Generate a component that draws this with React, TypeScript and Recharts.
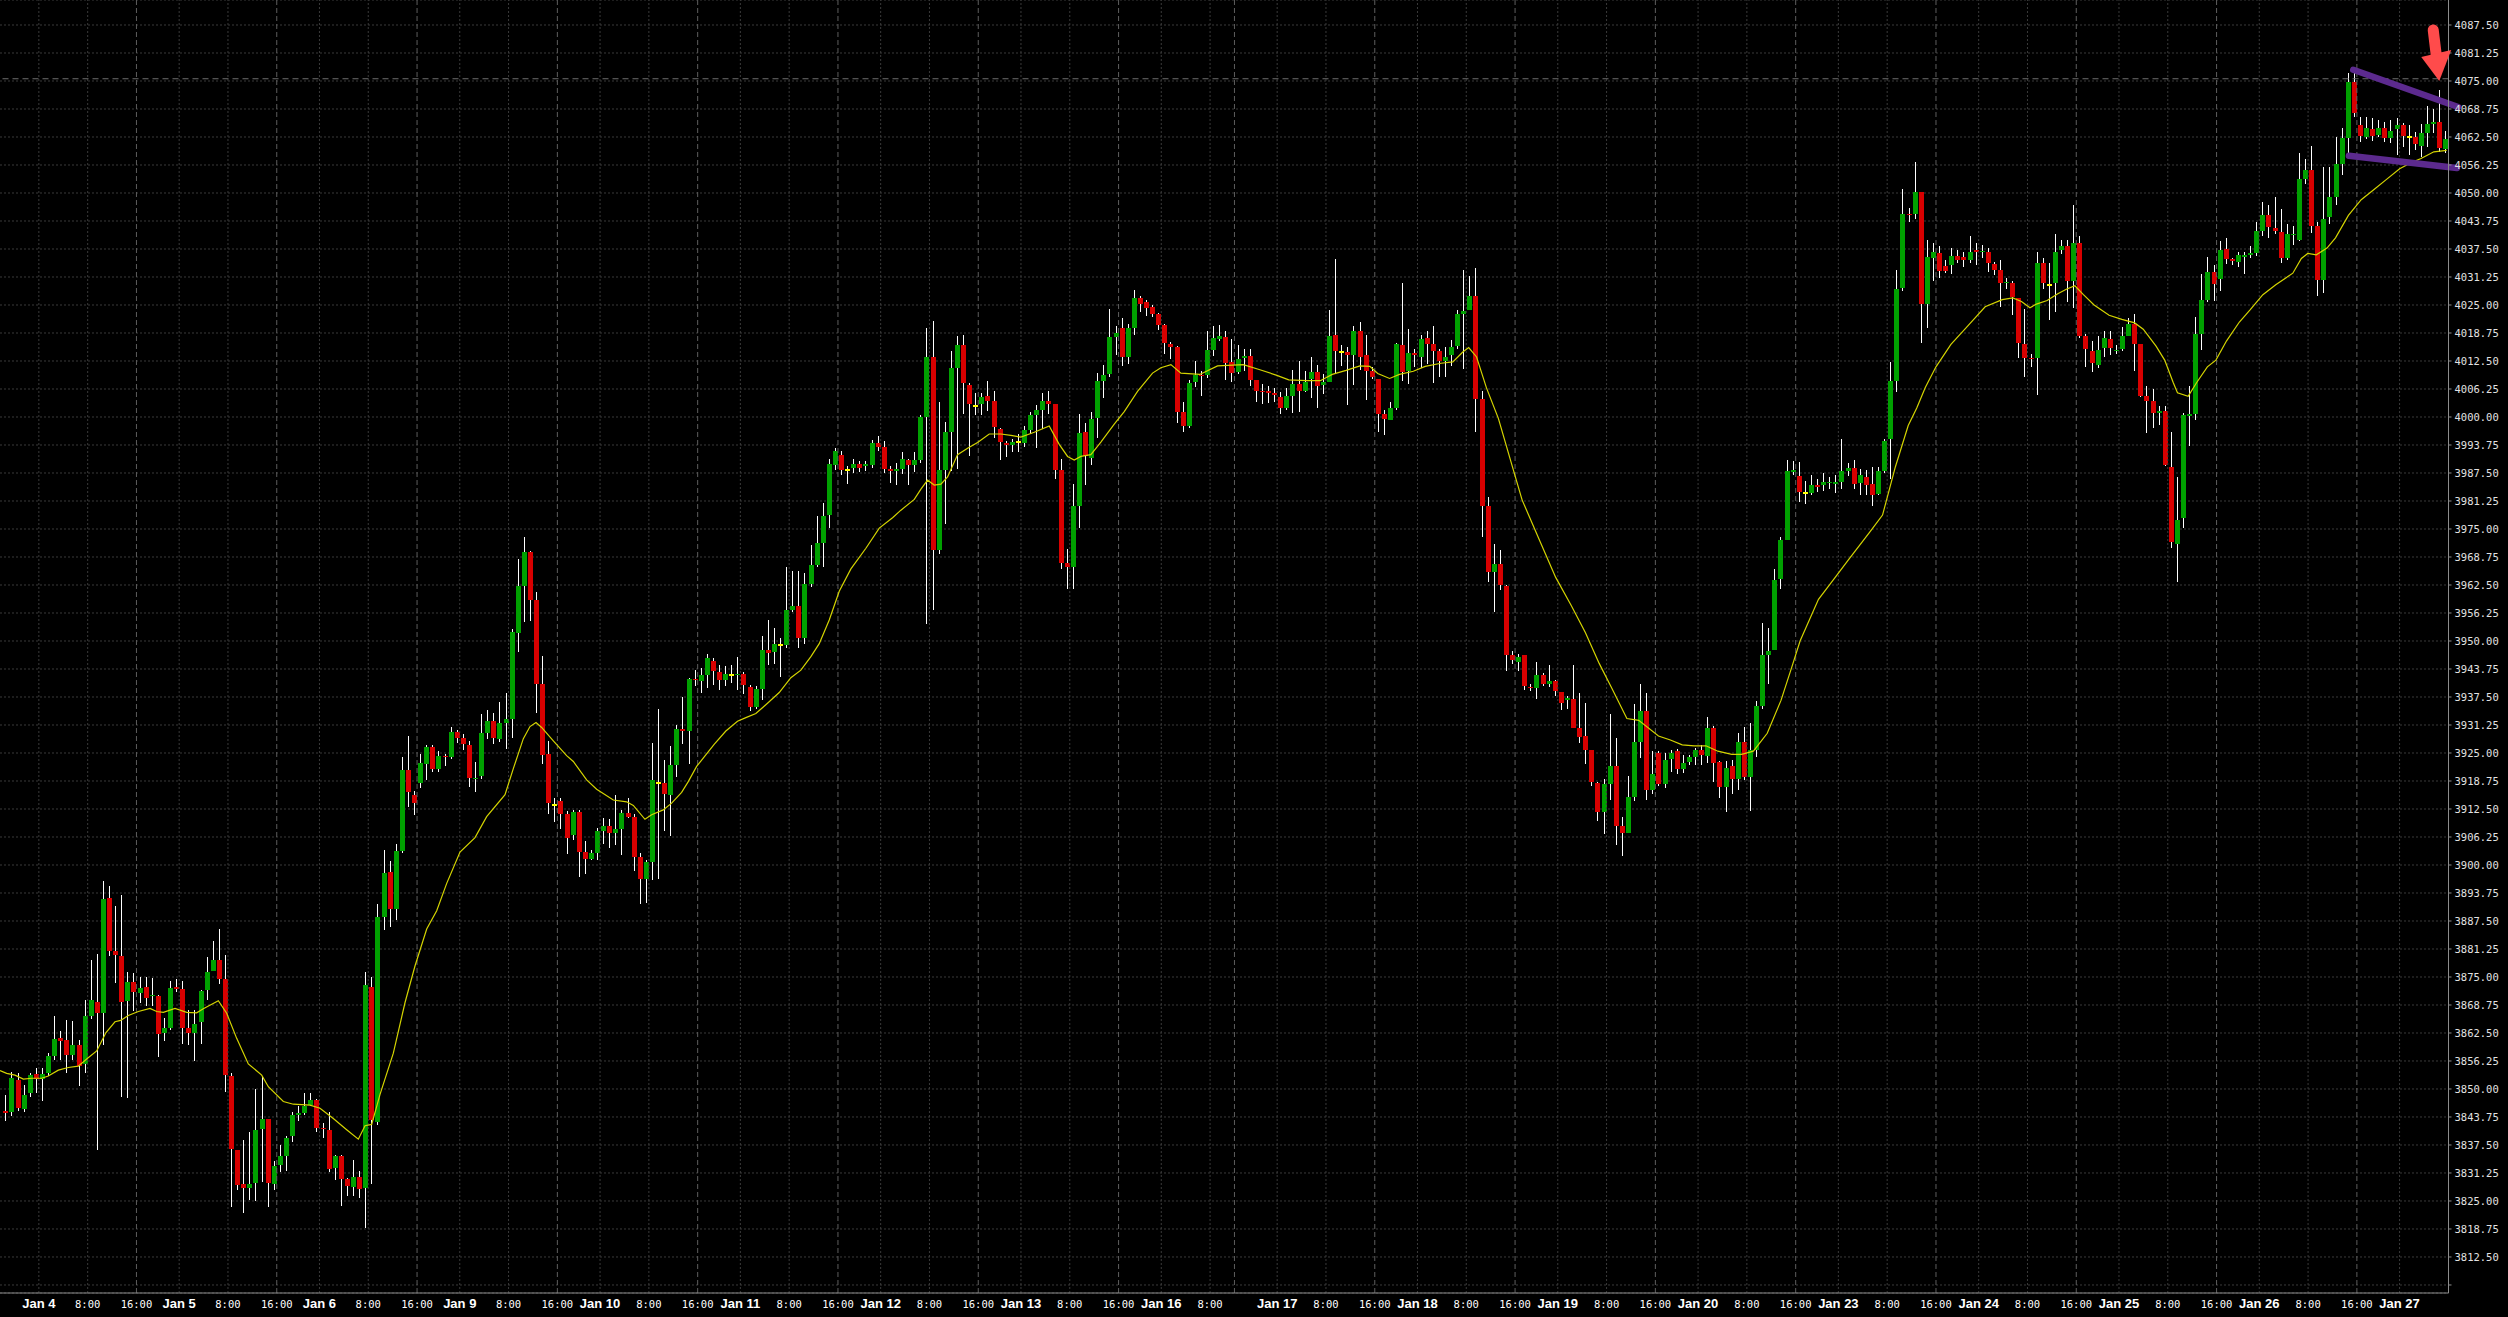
import React from "react";
import {
  ComposedChart,
  Bar,
  Line,
  XAxis,
  YAxis,
  CartesianGrid,
  ReferenceLine,
  ReferenceDot,
} from "recharts";

// hourly candles, index 1 = first visible bar (Jan 3 evening)
const firstCandle = 1;

const opens = [
  3845.1, 3844.9, 3852.0, 3845.6, 3849.0, 3853.3, 3852.2, 3853.5, 3857.4, 3861.3,
  3860.9, 3857.6, 3859.8, 3855.6, 3866.4, 3869.5, 3867.0, 3892.7, 3880.9, 3879.7,
  3869.6, 3873.9, 3871.4, 3872.8, 3870.7, 3870.7, 3862.4, 3863.7, 3872.8, 3872.3,
  3863.6, 3862.4, 3865.0, 3872.0, 3876.4, 3878.8, 3874.5, 3852.9, 3836.4, 3828.8,
  3828.0, 3829.1, 3841.1, 3843.3, 3828.9, 3833.1, 3835.1, 3839.4, 3844.2, 3844.7,
  3846.4, 3847.5, 3841.4, 3840.8, 3832.4, 3835.0, 3829.9, 3828.2, 3830.4, 3828.0,
  3872.7, 3842.7, 3888.3, 3898.5, 3890.1, 3903.1, 3921.3, 3915.7, 3918.3, 3922.5,
  3926.4, 3921.5, 3924.3, 3924.0, 3929.7, 3928.3, 3926.8, 3919.2, 3919.8, 3929.5,
  3932.1, 3928.2, 3931.8, 3932.6, 3951.7, 3962.2, 3969.9, 3959.2, 3940.3, 3924.8,
  3913.3, 3914.3, 3911.3, 3906.6, 3911.9, 3902.9, 3901.4, 3902.7, 3907.5, 3908.7,
  3907.1, 3908.1, 3911.7, 3910.7, 3901.8, 3896.9, 3900.7, 3918.4, 3918.2, 3915.7,
  3922.3, 3930.4, 3930.0, 3941.6, 3941.0, 3942.5, 3945.6, 3943.1, 3941.3, 3942.5,
  3942.3, 3942.6, 3939.8, 3935.3, 3939.3, 3947.9, 3947.6, 3949.0, 3949.0, 3957.0,
  3957.9, 3950.6, 3962.8, 3967.0, 3971.8, 3978.2, 3989.3, 3991.6, 3988.2, 3988.6,
  3989.6, 3989.0, 3989.2, 3994.1, 3993.3, 3988.3, 3987.9, 3988.3, 3990.4, 3989.2,
  3990.4, 4000.0, 4013.5, 3970.2, 3988.2, 3996.6, 4011.0, 4016.1, 4007.2, 4002.5,
  4003.0, 4004.6, 4003.6, 3997.4, 3994.2, 3993.7, 3994.4, 3994.3, 3997.1, 4000.5,
  4001.5, 4003.6, 4002.8, 3988.2, 3967.5, 3966.6, 3980.2, 3996.6, 3990.8, 3999.8,
  4008.0, 4009.6, 4017.8, 4019.9, 4013.5, 4019.9, 4026.5, 4025.6, 4024.5, 4022.9,
  4020.5, 4016.4, 4015.6, 4001.2, 3998.0, 4007.7, 4009.3, 4009.3, 4015.0, 4017.5,
  4017.9, 4012.2, 4010.0, 4013.1, 4013.6, 4008.2, 4005.9, 4005.7, 4005.3, 4004.5,
  4002.0, 4004.7, 4007.3, 4005.8, 4008.4, 4010.1, 4007.2, 4007.8, 4018.4, 4014.5,
  4014.6, 4013.8, 4019.3, 4013.8, 4010.2, 4008.4, 4000.6, 3999.4, 4002.0, 4016.1,
  4010.2, 4014.3, 4013.4, 4017.7, 4016.4, 4014.7, 4012.4, 4013.8, 4015.8, 4022.9,
  4023.8, 4027.0, 4004.0, 3980.1, 3965.3, 3967.2, 3962.3, 3946.9, 3945.3, 3946.9,
  3939.8, 3939.6, 3942.5, 3940.5, 3941.1, 3938.6, 3936.8, 3937.0, 3930.5, 3928.8,
  3925.7, 3918.4, 3911.8, 3918.0, 3922.0, 3908.6, 3907.2, 3915.2, 3927.5, 3934.3,
  3916.8, 3925.0, 3918.0, 3923.6, 3925.4, 3921.4, 3922.9, 3924.1, 3925.7, 3924.3,
  3930.6, 3922.9, 3917.3, 3922.0, 3919.1, 3927.5, 3919.7, 3925.7, 3935.5, 3946.9,
  3947.9, 3963.9, 3972.6, 3987.7, 3986.9, 3983.1, 3983.1, 3984.8, 3984.9, 3985.2,
  3985.0, 3985.4, 3988.0, 3988.7, 3985.2, 3986.6, 3985.0, 3982.7, 3988.0, 3995.0,
  4008.1, 4028.7, 4045.4, 4045.2, 4050.2, 4025.2, 4035.4, 4036.6, 4033.7, 4033.9,
  4036.0, 4035.8, 4035.0, 4037.3, 4036.8, 4036.9, 4034.1, 4032.7, 4030.0, 4029.8,
  4026.6, 4016.2, 4013.2, 4013.1, 4034.4, 4029.5, 4029.8, 4037.2, 4038.1, 4030.4,
  4038.9, 4018.1, 4014.7, 4011.6, 4015.4, 4017.5, 4014.8, 4015.2, 4018.1, 4020.8,
  4016.2, 4004.7, 4003.5, 4000.8, 4001.4, 3988.9, 3971.6, 3977.4, 4000.3, 4000.6,
  4018.5, 4026.2, 4032.3, 4030.8, 4037.5, 4035.2, 4034.5, 4035.8, 4036.2, 4036.7,
  4041.5, 4045.0, 4042.2, 4041.4, 4035.4, 4040.6, 4039.6, 4053.1, 4055.2, 4042.7,
  4030.6, 4044.6, 4049.2, 4056.5, 4062.2, 4074.8, 4065.2, 4062.6, 4064.3, 4063.0,
  4064.6, 4062.2, 4064.2, 4065.2, 4062.6, 4062.6, 4060.5, 4063.5, 4065.4, 4065.9,
  4059.8,
];

const highs = [
  3848.6, 3853.9, 3853.5, 3850.9, 3853.5, 3854.6, 3854.6, 3858.1, 3866.4, 3863.0,
  3865.4, 3865.2, 3860.9, 3869.9, 3878.8, 3880.1, 3896.4, 3895.2, 3890.9, 3893.3,
  3876.2, 3876.0, 3874.9, 3874.9, 3874.7, 3871.0, 3865.8, 3874.2, 3874.5, 3874.2,
  3867.6, 3867.6, 3872.1, 3879.5, 3883.1, 3885.6, 3879.8, 3853.5, 3836.4, 3838.6,
  3840.3, 3850.1, 3852.8, 3843.3, 3833.9, 3837.6, 3839.5, 3844.9, 3846.2, 3849.0,
  3849.0, 3847.7, 3842.3, 3844.9, 3835.3, 3835.3, 3830.1, 3834.1, 3831.6, 3876.1,
  3875.1, 3891.3, 3903.3, 3901.0, 3904.6, 3924.0, 3928.7, 3916.5, 3924.8, 3926.8,
  3926.8, 3925.4, 3924.8, 3930.7, 3930.2, 3929.2, 3927.7, 3923.1, 3933.6, 3934.6,
  3934.0, 3936.4, 3938.4, 3952.6, 3968.4, 3973.3, 3970.0, 3961.0, 3946.6, 3927.7,
  3914.9, 3914.9, 3912.1, 3912.3, 3912.3, 3905.4, 3903.3, 3908.2, 3910.5, 3910.2,
  3915.6, 3912.3, 3914.9, 3911.3, 3902.6, 3901.2, 3927.2, 3934.8, 3923.4, 3926.6,
  3931.2, 3937.4, 3941.7, 3943.5, 3943.9, 3947.0, 3946.3, 3944.7, 3944.5, 3944.7,
  3946.5, 3943.1, 3940.1, 3939.9, 3951.1, 3954.7, 3952.9, 3950.6, 3966.6, 3965.7,
  3965.7, 3965.2, 3971.4, 3977.9, 3980.7, 3990.7, 3993.0, 3992.5, 3989.1, 3990.7,
  3990.1, 3990.1, 3994.8, 3995.7, 3994.6, 3989.1, 3989.8, 3992.1, 3990.7, 3992.1,
  4000.5, 4019.9, 4021.5, 4003.4, 3998.9, 4014.7, 4018.0, 4018.4, 4007.6, 4005.3,
  4005.3, 4008.0, 4005.9, 3997.6, 3994.6, 3995.0, 3996.2, 3998.0, 4001.2, 4002.7,
  4005.3, 4005.7, 4003.0, 3990.7, 3970.5, 3985.0, 4000.7, 3998.6, 4001.2, 4009.8,
  4011.7, 4024.1, 4020.3, 4022.1, 4020.8, 4028.3, 4027.1, 4026.1, 4024.9, 4023.2,
  4020.8, 4016.7, 4015.8, 4003.4, 4008.3, 4012.4, 4010.2, 4019.3, 4020.2, 4020.5,
  4019.3, 4017.5, 4016.1, 4015.2, 4015.2, 4008.3, 4007.4, 4007.0, 4006.5, 4005.6,
  4006.5, 4010.6, 4012.4, 4010.2, 4013.5, 4011.5, 4009.7, 4023.8, 4035.2, 4016.1,
  4015.6, 4020.2, 4021.1, 4018.4, 4011.1, 4008.4, 4001.5, 4003.3, 4016.5, 4029.8,
  4019.7, 4015.2, 4018.4, 4019.3, 4020.2, 4015.2, 4015.6, 4017.2, 4023.8, 4032.7,
  4031.4, 4033.2, 4005.8, 3982.2, 3971.6, 3970.3, 3962.5, 3947.8, 3947.0, 3946.9,
  3940.3, 3945.2, 3942.8, 3944.6, 3941.2, 3938.6, 3937.8, 3944.6, 3938.5, 3936.1,
  3925.7, 3918.6, 3919.1, 3933.8, 3928.4, 3910.6, 3919.8, 3935.9, 3940.5, 3938.4,
  3925.4, 3925.4, 3925.0, 3925.7, 3925.9, 3924.5, 3924.5, 3926.1, 3926.8, 3933.0,
  3931.1, 3923.2, 3923.2, 3923.4, 3929.5, 3930.9, 3931.8, 3936.7, 3954.1, 3952.8,
  3966.0, 3973.3, 3990.4, 3990.1, 3989.9, 3985.8, 3987.0, 3986.2, 3987.5, 3986.6,
  3987.0, 3995.0, 3989.8, 3990.4, 3988.5, 3988.1, 3988.9, 3988.9, 3995.0, 4012.3,
  4032.7, 4051.0, 4046.6, 4056.9, 4050.3, 4039.6, 4038.9, 4038.1, 4035.0, 4037.7,
  4037.3, 4036.9, 4040.4, 4038.9, 4038.5, 4037.7, 4034.5, 4035.0, 4031.0, 4030.4,
  4026.6, 4024.0, 4014.0, 4036.9, 4035.4, 4034.3, 4040.8, 4039.6, 4039.6, 4047.3,
  4040.4, 4018.5, 4016.9, 4018.1, 4019.3, 4019.3, 4016.0, 4020.0, 4022.0, 4023.1,
  4016.2, 4007.0, 4006.2, 4002.4, 4002.4, 3996.6, 3986.6, 4000.8, 4007.0, 4022.3,
  4032.0, 4035.8, 4033.9, 4039.2, 4040.0, 4035.6, 4036.9, 4036.9, 4038.1, 4043.5,
  4048.1, 4047.3, 4049.2, 4046.4, 4043.1, 4042.7, 4058.9, 4057.5, 4060.4, 4043.5,
  4055.8, 4055.8, 4062.5, 4064.6, 4076.8, 4076.7, 4067.0, 4066.9, 4066.7, 4066.2,
  4065.9, 4066.2, 4066.7, 4065.6, 4065.2, 4063.7, 4065.4, 4069.4, 4068.7, 4073.0,
  4063.8,
];

const lows = [
  3842.9, 3844.0, 3845.0, 3844.9, 3848.1, 3849.0, 3847.2, 3852.9, 3856.5, 3856.5,
  3853.5, 3856.6, 3850.7, 3853.6, 3865.6, 3836.4, 3859.8, 3879.5, 3873.7, 3848.1,
  3848.1, 3867.6, 3869.0, 3868.4, 3868.4, 3857.2, 3860.7, 3863.2, 3871.5, 3860.2,
  3859.8, 3856.3, 3860.0, 3869.9, 3876.4, 3873.4, 3849.2, 3823.6, 3827.5, 3822.4,
  3825.1, 3825.1, 3829.1, 3823.7, 3827.5, 3831.6, 3831.6, 3838.2, 3842.9, 3844.2,
  3846.1, 3840.3, 3839.0, 3831.5, 3829.7, 3824.0, 3826.0, 3826.0, 3825.6, 3819.0,
  3828.9, 3842.0, 3885.5, 3886.2, 3887.7, 3902.5, 3912.8, 3911.1, 3917.2, 3919.0,
  3920.8, 3920.8, 3922.2, 3923.6, 3927.2, 3925.6, 3917.4, 3916.4, 3919.0, 3928.2,
  3927.0, 3927.5, 3925.8, 3928.2, 3947.6, 3954.3, 3954.3, 3934.0, 3922.5, 3911.3,
  3909.5, 3908.0, 3902.6, 3905.6, 3897.4, 3898.0, 3901.0, 3901.0, 3904.6, 3903.8,
  3904.4, 3902.3, 3910.5, 3898.5, 3891.3, 3891.6, 3896.7, 3896.9, 3907.5, 3906.4,
  3919.7, 3927.0, 3922.5, 3940.0, 3938.4, 3939.3, 3940.3, 3939.2, 3940.0, 3940.6,
  3939.2, 3938.3, 3934.2, 3934.7, 3936.9, 3944.7, 3944.9, 3942.0, 3948.5, 3956.5,
  3948.5, 3949.4, 3962.0, 3966.6, 3966.4, 3975.2, 3988.2, 3987.1, 3985.0, 3987.5,
  3987.7, 3987.9, 3988.6, 3992.3, 3987.5, 3985.2, 3984.8, 3987.1, 3984.8, 3987.7,
  3989.8, 3953.8, 3957.0, 3969.5, 3976.1, 3987.9, 3988.3, 4000.7, 3991.3, 4000.5,
  4000.3, 4001.2, 3995.3, 3990.4, 3991.0, 3992.1, 3992.2, 3993.4, 3996.2, 3993.0,
  3997.3, 4000.5, 3986.3, 3966.1, 3961.6, 3961.6, 3975.2, 3984.8, 3989.4, 3995.3,
  4004.4, 4008.9, 4013.9, 4011.4, 4011.9, 4018.3, 4023.5, 4022.6, 4022.3, 4019.4,
  4014.1, 4013.0, 3998.6, 3996.6, 3997.5, 4006.5, 4004.7, 4008.9, 4013.4, 4017.0,
  4008.4, 4007.9, 4009.7, 4010.2, 4007.0, 4003.3, 4002.9, 4003.3, 4003.3, 4000.6,
  4001.5, 4001.1, 4001.1, 4005.6, 4004.4, 4002.0, 4005.2, 4007.7, 4009.7, 4011.5,
  4002.6, 4007.0, 4010.4, 4003.8, 4008.4, 3996.5, 3996.0, 3999.2, 4001.5, 4007.9,
  4007.4, 4011.1, 4011.1, 4012.0, 4007.4, 4009.0, 4009.0, 4011.5, 4015.2, 4010.6,
  4023.8, 3996.5, 3973.3, 3963.3, 3956.4, 3961.4, 3943.4, 3945.0, 3943.2, 3939.1,
  3938.8, 3937.0, 3939.8, 3939.8, 3937.7, 3934.6, 3934.8, 3930.5, 3927.3, 3922.4,
  3917.7, 3910.0, 3906.8, 3914.5, 3904.5, 3901.8, 3907.0, 3914.2, 3923.9, 3914.5,
  3915.7, 3917.5, 3917.2, 3920.8, 3920.4, 3920.4, 3922.3, 3922.3, 3922.3, 3922.7,
  3918.6, 3915.0, 3911.8, 3915.9, 3916.8, 3919.1, 3912.2, 3924.1, 3935.0, 3940.3,
  3947.9, 3961.6, 3972.6, 3986.9, 3981.0, 3980.6, 3982.6, 3983.2, 3983.5, 3983.9,
  3983.0, 3983.9, 3987.0, 3983.9, 3982.7, 3982.6, 3980.1, 3982.6, 3987.5, 3986.2,
  4005.4, 4028.3, 4043.5, 4044.2, 4016.6, 4020.0, 4030.4, 4031.0, 4032.0, 4032.0,
  4034.3, 4033.5, 4034.3, 4033.9, 4035.5, 4032.3, 4031.5, 4024.6, 4028.5, 4022.7,
  4013.1, 4008.9, 4011.0, 4005.0, 4028.5, 4021.6, 4023.5, 4036.5, 4025.8, 4024.3,
  4017.7, 4011.2, 4010.0, 4011.0, 4013.5, 4013.9, 4013.9, 4014.6, 4018.0, 4010.4,
  4004.3, 3996.6, 3997.4, 3998.1, 3989.0, 3970.8, 3963.1, 3975.1, 3993.5, 3999.3,
  4015.0, 4025.8, 4025.8, 4028.1, 4034.3, 4034.0, 4033.5, 4032.0, 4035.4, 4035.8,
  4040.4, 4040.0, 4041.0, 4034.3, 4035.0, 4038.5, 4039.3, 4052.0, 4041.0, 4027.0,
  4027.7, 4043.1, 4047.3, 4054.2, 4058.0, 4066.9, 4061.5, 4062.0, 4061.5, 4062.3,
  4061.5, 4061.1, 4058.5, 4060.3, 4058.5, 4059.6, 4058.1, 4060.3, 4063.3, 4059.2,
  4059.0,
];

const closes = [
  3844.7, 3852.4, 3845.7, 3848.7, 3853.1, 3852.2, 3853.3, 3857.4, 3861.2, 3860.8,
  3857.6, 3859.8, 3855.2, 3866.3, 3869.9, 3867.0, 3892.4, 3880.7, 3879.9, 3869.5,
  3873.9, 3871.6, 3872.5, 3870.4, 3870.9, 3862.2, 3863.6, 3872.5, 3872.4, 3863.7,
  3862.4, 3864.5, 3871.9, 3876.1, 3878.8, 3874.5, 3853.2, 3836.5, 3828.6, 3828.0,
  3828.8, 3840.9, 3843.3, 3829.1, 3832.8, 3835.0, 3839.1, 3844.2, 3844.7, 3846.2,
  3847.5, 3841.4, 3841.0, 3832.2, 3835.0, 3830.0, 3828.4, 3830.4, 3827.7, 3873.1,
  3843.0, 3888.3, 3898.3, 3890.1, 3903.1, 3921.3, 3916.2, 3913.8, 3922.7, 3926.4,
  3921.5, 3924.4, 3924.0, 3929.7, 3928.4, 3927.0, 3919.5, 3919.5, 3929.5, 3932.1,
  3928.4, 3931.8, 3932.6, 3951.9, 3962.2, 3969.9, 3959.2, 3940.3, 3924.6, 3913.8,
  3913.3, 3911.3, 3906.1, 3911.9, 3902.9, 3901.4, 3902.7, 3907.5, 3908.7, 3907.1,
  3908.0, 3911.5, 3910.7, 3901.8, 3896.9, 3900.7, 3919.0, 3918.4, 3915.9, 3922.3,
  3930.4, 3930.0, 3941.6, 3941.3, 3942.5, 3946.1, 3943.3, 3941.2, 3942.7, 3942.5,
  3942.6, 3940.1, 3935.3, 3939.3, 3947.9, 3947.4, 3949.4, 3949.0, 3957.0, 3957.9,
  3950.6, 3962.8, 3967.0, 3971.8, 3978.0, 3989.6, 3992.3, 3988.2, 3988.2, 3989.6,
  3988.7, 3989.4, 3994.1, 3993.3, 3988.3, 3987.9, 3988.3, 3990.6, 3989.2, 3990.4,
  4000.0, 4013.3, 3970.2, 3988.2, 3996.6, 4011.0, 4016.1, 4007.6, 4002.8, 4002.5,
  4004.4, 4003.5, 3997.7, 3994.4, 3993.7, 3994.5, 3994.4, 3997.2, 4000.5, 4001.5,
  4003.5, 4003.0, 3988.2, 3967.5, 3966.6, 3980.2, 3996.4, 3991.2, 3999.6, 4008.0,
  4009.4, 4017.8, 4018.8, 4013.5, 4019.9, 4026.5, 4025.3, 4024.4, 4022.9, 4020.5,
  4016.5, 4015.6, 4001.2, 3998.0, 4007.6, 4009.3, 4009.2, 4015.0, 4017.7, 4018.1,
  4012.0, 4009.9, 4012.9, 4013.6, 4008.3, 4005.9, 4005.6, 4005.3, 4005.0, 4002.0,
  4004.7, 4007.3, 4005.9, 4007.9, 4010.1, 4007.0, 4007.7, 4018.1, 4014.7, 4014.5,
  4013.8, 4019.3, 4013.4, 4010.2, 4009.0, 4000.6, 3999.5, 4002.0, 4016.4, 4010.0,
  4014.3, 4013.9, 4017.5, 4016.4, 4014.7, 4012.4, 4013.4, 4015.7, 4022.9, 4023.7,
  4027.0, 4004.0, 3980.1, 3965.3, 3967.1, 3962.5, 3946.9, 3945.8, 3946.4, 3940.0,
  3939.6, 3942.5, 3940.5, 3941.1, 3938.8, 3936.1, 3937.3, 3930.6, 3928.6, 3925.7,
  3918.6, 3911.8, 3918.0, 3922.0, 3908.6, 3907.2, 3915.2, 3927.5, 3934.3, 3916.8,
  3920.2, 3918.0, 3923.4, 3925.0, 3921.5, 3922.7, 3924.1, 3925.7, 3924.5, 3930.6,
  3922.7, 3917.3, 3921.7, 3919.1, 3927.5, 3919.7, 3925.7, 3935.5, 3946.9, 3947.8,
  3963.7, 3972.6, 3987.9, 3988.1, 3983.3, 3983.1, 3984.8, 3984.4, 3985.4, 3985.4,
  3985.4, 3987.9, 3988.7, 3985.1, 3987.0, 3984.9, 3982.6, 3988.0, 3994.7, 4008.1,
  4028.5, 4045.2, 4045.2, 4050.2, 4025.2, 4035.8, 4036.9, 4032.6, 4032.6, 4036.0,
  4035.0, 4035.0, 4036.9, 4036.9, 4037.1, 4034.3, 4032.9, 4030.0, 4030.2, 4026.7,
  4016.6, 4013.1, 4012.9, 4034.4, 4029.8, 4029.5, 4036.9, 4038.1, 4030.4, 4038.9,
  4018.1, 4015.2, 4012.1, 4015.0, 4017.7, 4015.4, 4015.0, 4018.1, 4020.8, 4016.2,
  4004.7, 4003.5, 4000.8, 4001.4, 3989.3, 3972.0, 3977.0, 4000.4, 4000.6, 4018.5,
  4026.2, 4032.3, 4029.6, 4037.3, 4035.2, 4034.9, 4036.2, 4036.2, 4036.6, 4041.5,
  4045.0, 4042.3, 4041.5, 4035.4, 4040.8, 4040.8, 4053.1, 4055.2, 4042.7, 4030.6,
  4044.2, 4049.0, 4056.4, 4062.2, 4074.8, 4067.9, 4062.7, 4064.4, 4062.7, 4064.6,
  4062.2, 4063.8, 4065.2, 4062.7, 4062.6, 4060.9, 4063.3, 4065.4, 4065.9, 4060.0,
  4062.0,
];

// yellow moving average (bar index, price)
const maX = [
  0.13, 1.22, 2.59, 3.96, 5.32, 6.96, 8.05, 9.69, 11.33, 12.97, 14.34, 15.98, 17.51, 18.98,
  19.91, 21.17, 22.81, 24.72, 25.81, 26.91, 28.82, 30.73, 32.37, 33.46, 35.92, 37.29, 38.93,
  40.84, 43.03, 44.12, 46.58, 48.22, 50.95, 52.59, 54.77, 56.96, 58.87, 59.97, 61.06, 62.43,
  64.61, 66.53, 68.17, 70.08, 71.72, 73.36, 75.54, 78.0, 79.91, 82.92, 84.28, 85.92, 87.01,
  88.0, 88.92, 90.84, 93.02, 94.12, 96.3, 97.94, 100.67, 102.86, 103.95, 105.86, 106.95,
  108.86, 110.23, 111.87, 112.96, 114.33, 117.2, 119.12, 121.03, 122.4, 124.04, 125.95,
  127.87, 129.78, 131.42, 133.06, 134.43, 136.07, 137.71, 139.62, 142.08, 144.27, 146.45,
  147.82, 150.01, 151.1, 152.19, 153.28, 154.38, 155.47, 157.11, 158.75, 160.39, 162.3,
  164.21, 165.85, 167.49, 169.68, 172.13, 173.77, 175.14, 176.23, 177.32, 178.96, 180.6,
  182.79, 184.43, 186.61, 189.07, 190.44, 192.08, 193.72, 196.81, 199.73, 203.94, 206.54,
  209.45, 211.4, 214.32, 216.58, 218.53, 220.8, 223.07, 224.69, 225.99, 227.93, 229.55,
  231.82, 233.77, 236.36, 238.3, 239.93, 240.9, 242.19, 243.81, 245.76, 247.7, 249.65,
  252.24, 255.16, 257.75, 260.02, 262.29, 264.24, 266.83, 268.77, 272.01, 273.96, 275.9,
  277.85, 279.79, 281.74, 284.01, 285.63, 287.57, 289.84, 292.11, 294.06, 295.22, 298.24,
  301.04, 303.14, 306.64, 308.74, 310.85, 312.95, 314.35, 315.75, 317.5, 319.95, 322.76,
  325.56, 328.36, 330.11, 331.51, 332.91, 333.97, 335.72, 337.47, 338.87, 340.27, 341.67,
  343.42, 345.88, 347.98, 350.08, 351.48, 353.58, 354.99, 356.39, 357.09, 358.84, 360.24,
  361.99, 363.39, 365.14, 367.24, 368.99, 371.09, 373.2, 376.0, 377.4, 378.45, 379.85,
  381.6, 383.0, 385.11, 387.21, 389.31, 391.41, 393.51, 395.62, 397.02, 399.12, 401.22,
];
const maY = [
  3854.1, 3853.5, 3853.1, 3852.2, 3852.4, 3852.4, 3852.9, 3854.2, 3854.8, 3855.1, 3856.7,
  3858.5, 3862.6, 3865.0, 3865.3, 3866.4, 3867.3, 3868.0, 3867.3, 3867.1, 3868.0, 3867.1,
  3867.0, 3867.9, 3869.7, 3866.9, 3861.3, 3855.6, 3853.1, 3850.5, 3847.2, 3846.6, 3846.4,
  3845.7, 3843.4, 3840.9, 3838.8, 3841.8, 3842.1, 3848.8, 3858.0, 3869.3, 3877.5, 3885.7,
  3889.8, 3895.9, 3902.9, 3906.1, 3910.8, 3915.7, 3921.5, 3928.2, 3930.9, 3931.8, 3930.7,
  3927.7, 3924.4, 3923.1, 3919.0, 3916.9, 3914.5, 3914.1, 3913.3, 3910.2, 3911.2, 3912.3,
  3913.8, 3916.2, 3918.6, 3922.0, 3926.9, 3929.9, 3932.1, 3932.9, 3933.8, 3936.1, 3938.5,
  3941.8, 3943.5, 3946.5, 3949.4, 3954.7, 3961.1, 3966.1, 3970.7, 3975.2, 3977.5, 3979.2,
  3981.6, 3983.9, 3985.9, 3984.8, 3985.0, 3986.6, 3991.6, 3993.0, 3994.3, 3996.2, 3996.2,
  3995.9, 3995.5, 3996.6, 3998.0, 3993.9, 3991.2, 3990.4, 3991.2, 3991.6, 3994.4, 3998.4,
  4001.2, 4005.7, 4009.8, 4011.0, 4011.7, 4009.8, 4009.5, 4011.4, 4011.7, 4010.6, 4009.3,
  4008.3, 4008.1, 4008.1, 4009.5, 4010.4, 4011.4, 4011.3, 4009.7, 4008.6, 4009.5, 4010.2,
  4011.3, 4012.0, 4012.3, 4014.5, 4015.5, 4013.4, 4006.5, 3999.7, 3990.6, 3981.5, 3973.3,
  3964.2, 3957.8, 3951.9, 3945.0, 3939.8, 3932.7, 3932.3, 3928.8, 3927.9, 3926.8, 3926.6,
  3926.6, 3925.4, 3924.7, 3924.7, 3925.4, 3929.4, 3936.8, 3945.0, 3950.0, 3959.3, 3964.3,
  3968.1, 3974.3, 3978.1, 3988.9, 3998.1, 4002.0, 4006.6, 4011.2, 4016.2, 4020.4, 4024.6,
  4026.2, 4026.6, 4025.8, 4024.4, 4025.2, 4026.0, 4027.5, 4028.5, 4029.3, 4027.3, 4025.0,
  4022.7, 4021.8, 4021.0, 4019.6, 4015.8, 4012.7, 4007.7, 4005.4, 4004.6, 4007.7, 4011.2,
  4012.7, 4017.0, 4021.2, 4023.9, 4027.3, 4029.5, 4032.1, 4035.4, 4036.5, 4036.2, 4037.7,
  4040.0, 4045.0, 4048.5, 4050.8, 4053.1, 4055.4, 4056.9, 4057.7, 4059.2, 4059.5,
];

// time axis labels (placed on bar boundaries)
const tickPos = [
  6.5, 14.5, 22.5, 29.5, 37.5, 45.5, 52.5, 60.5, 68.5, 75.5, 83.5, 91.5, 98.5, 106.5, 114.5,
  121.5, 129.5, 137.5, 144.5, 152.5, 160.5, 167.5, 175.5, 183.5, 190.5, 198.5, 209.5, 217.5,
  225.5, 232.5, 240.5, 248.5, 255.5, 263.5, 271.5, 278.5, 286.5, 294.5, 301.5, 309.5, 317.5,
  324.5, 332.5, 340.5, 347.5, 355.5, 363.5, 370.5, 378.5, 386.5, 393.5,
];
const tickText = [
  "Jan 4", "8:00", "16:00", "Jan 5", "8:00", "16:00", "Jan 6", "8:00", "16:00",
  "Jan 9", "8:00", "16:00", "Jan 10", "8:00", "16:00", "Jan 11", "8:00", "16:00",
  "Jan 12", "8:00", "16:00", "Jan 13", "8:00", "16:00", "Jan 16", "8:00",
  "Jan 17", "8:00", "16:00", "Jan 18", "8:00", "16:00", "Jan 19", "8:00", "16:00",
  "Jan 20", "8:00", "16:00", "Jan 23", "8:00", "16:00", "Jan 24", "8:00", "16:00",
  "Jan 25", "8:00", "16:00", "Jan 26", "8:00", "16:00", "Jan 27",
];
// session breaks drawn as the brighter dashed verticals
const sessionLines = [
  22.5, 45.5, 68.5, 91.5, 114.5, 137.5, 160.5, 183.5, 202.5, 225.5, 248.5, 271.5, 294.5,
  317.5, 340.5, 363.5, 386.5,
];

// hand-drawn annotations
const channelTop = [{ x: 385.9, y: 4077.5 }, { x: 403.1, y: 4069.2 }];
const channelBottom = [{ x: 385.2, y: 4058.3 }, { x: 402.9, y: 4055.6 }];
const arrowTip = { x: 400.0, y: 4075.0 };
const priceLine = 4075.5;

const UP = "#00a000";
const DOWN = "#d80000";
const DOJI = "#ffff00";
const GRID = "#3a3a3a";
const PURPLE = "#5c2a8e";

const candles = opens.map((o, i) => ({
  t: firstCandle + i,
  o,
  h: highs[i],
  l: lows[i],
  c: closes[i],
  range: [lows[i], highs[i]],
}));
const maData = maX.map((t, i) => ({ t, ma: maY[i] }));
const priceTicks = Array.from({ length: 46 }, (_, i) => 3806.25 + i * 6.25);

function Candle(props: any) {
  const { x, y, width, height, payload } = props;
  if (!payload) return null;
  const { o, h, l, c } = payload;
  const top = Math.min(y, y + height);
  const full = Math.abs(height);
  const k = h > l ? full / (h - l) : 0;
  const py = (v: number) => top + (h - v) * k;
  const mid = Math.round(x + width / 2);
  const bTop = Math.round(py(Math.max(o, c)));
  const bBot = Math.round(py(Math.min(o, c)));
  return (
    <g shapeRendering="crispEdges">
      <rect x={mid} y={Math.round(top)} width={1} height={Math.max(Math.round(full), 1)} fill="#ffffff" />
      {c === o ? (
        <rect x={mid - 2} y={bTop - 1} width={5} height={2} fill={DOJI} />
      ) : (
        <rect x={mid - 2} y={bTop} width={5} height={Math.max(bBot - bTop, 1)} fill={c > o ? UP : DOWN} />
      )}
    </g>
  );
}

function PriceTick(props: any) {
  const { x, y, payload } = props;
  if (payload.value < 3810) return null;
  return (
    <text x={x} y={y} dy={4} fill="#e2e2e2" fontSize={10.5} fontFamily="'DejaVu Sans Mono', monospace">
      {payload.value.toFixed(2)}
    </text>
  );
}

function TimeTick(props: any) {
  const { x, y, payload } = props;
  const label = tickText[tickPos.indexOf(payload.value)] || "";
  const isDay = label.startsWith("Jan");
  return (
    <text
      x={x}
      y={y + 15}
      textAnchor="middle"
      fill="#ffffff"
      fontSize={isDay ? 13 : 10.5}
      fontWeight={isDay ? 700 : 400}
      fontFamily={isDay ? "'Liberation Sans', Arial, sans-serif" : "'DejaVu Sans Mono', monospace"}
    >
      {label}
    </text>
  );
}

function Arrow(props: any) {
  const { cx, cy } = props;
  return (
    <g>
      <line x1={cx - 6} y1={cy - 51} x2={cx - 3} y2={cy - 26} stroke="#ff4b4b" strokeWidth={11} strokeLinecap="round" />
      <polygon points={`${cx - 18},${cy - 24} ${cx + 12},${cy - 31} ${cx},${cy}`} fill="#ff4b4b" />
    </g>
  );
}

export default function App() {
  return (
    <div style={{ width: 2508, height: 1317, background: "#000" }}>
      <style>{"body{margin:0;background:#000;}"}</style>
      <ComposedChart width={2508} height={1317} data={candles} margin={{ top: 0, right: 0, bottom: 0, left: 0 }}>
        <CartesianGrid vertical={false} stroke={GRID} strokeDasharray="2 2" />
        <XAxis
          type="number"
          dataKey="t"
          domain={[0.13, 401.52]}
          ticks={tickPos}
          interval={0}
          height={24}
          allowDataOverflow
          axisLine={{ stroke: "#8c8c8c" }}
          tickLine={false}
          tickSize={0}
          tickMargin={0}
          tick={<TimeTick />}
        />
        <YAxis
          orientation="right"
          type="number"
          domain={[3804.46, 4093.08]}
          ticks={priceTicks}
          interval={0}
          width={59.5}
          allowDataOverflow
          axisLine={{ stroke: "#8c8c8c" }}
          tickLine={{ stroke: "#8c8c8c" }}
          tickSize={3}
          tickMargin={3}
          tick={<PriceTick />}
        />
        {tickPos
          .filter((p) => !sessionLines.includes(p))
          .map((p) => (
            <ReferenceLine key={"g" + p} x={p} stroke={GRID} strokeDasharray="2 2" />
          ))}
        {sessionLines.map((p) => (
          <ReferenceLine key={"s" + p} x={p} stroke="#5e5e5e" strokeDasharray="5 3" />
        ))}
        <ReferenceLine y={priceLine} stroke="#6e6e6e" strokeDasharray="6 4" />
        <Bar dataKey="range" barSize={5} shape={<Candle />} isAnimationActive={false} />
        <Line
          data={maData}
          dataKey="ma"
          type="linear"
          stroke="#d4d400"
          strokeWidth={1.2}
          dot={false}
          activeDot={false}
          isAnimationActive={false}
        />
        <ReferenceLine segment={channelTop} stroke={PURPLE} strokeWidth={6.5} strokeLinecap="round" ifOverflow="visible" />
        <ReferenceLine segment={channelBottom} stroke={PURPLE} strokeWidth={6.5} strokeLinecap="round" ifOverflow="visible" />
        <ReferenceDot x={arrowTip.x} y={arrowTip.y} ifOverflow="visible" shape={<Arrow />} />
      </ComposedChart>
    </div>
  );
}
